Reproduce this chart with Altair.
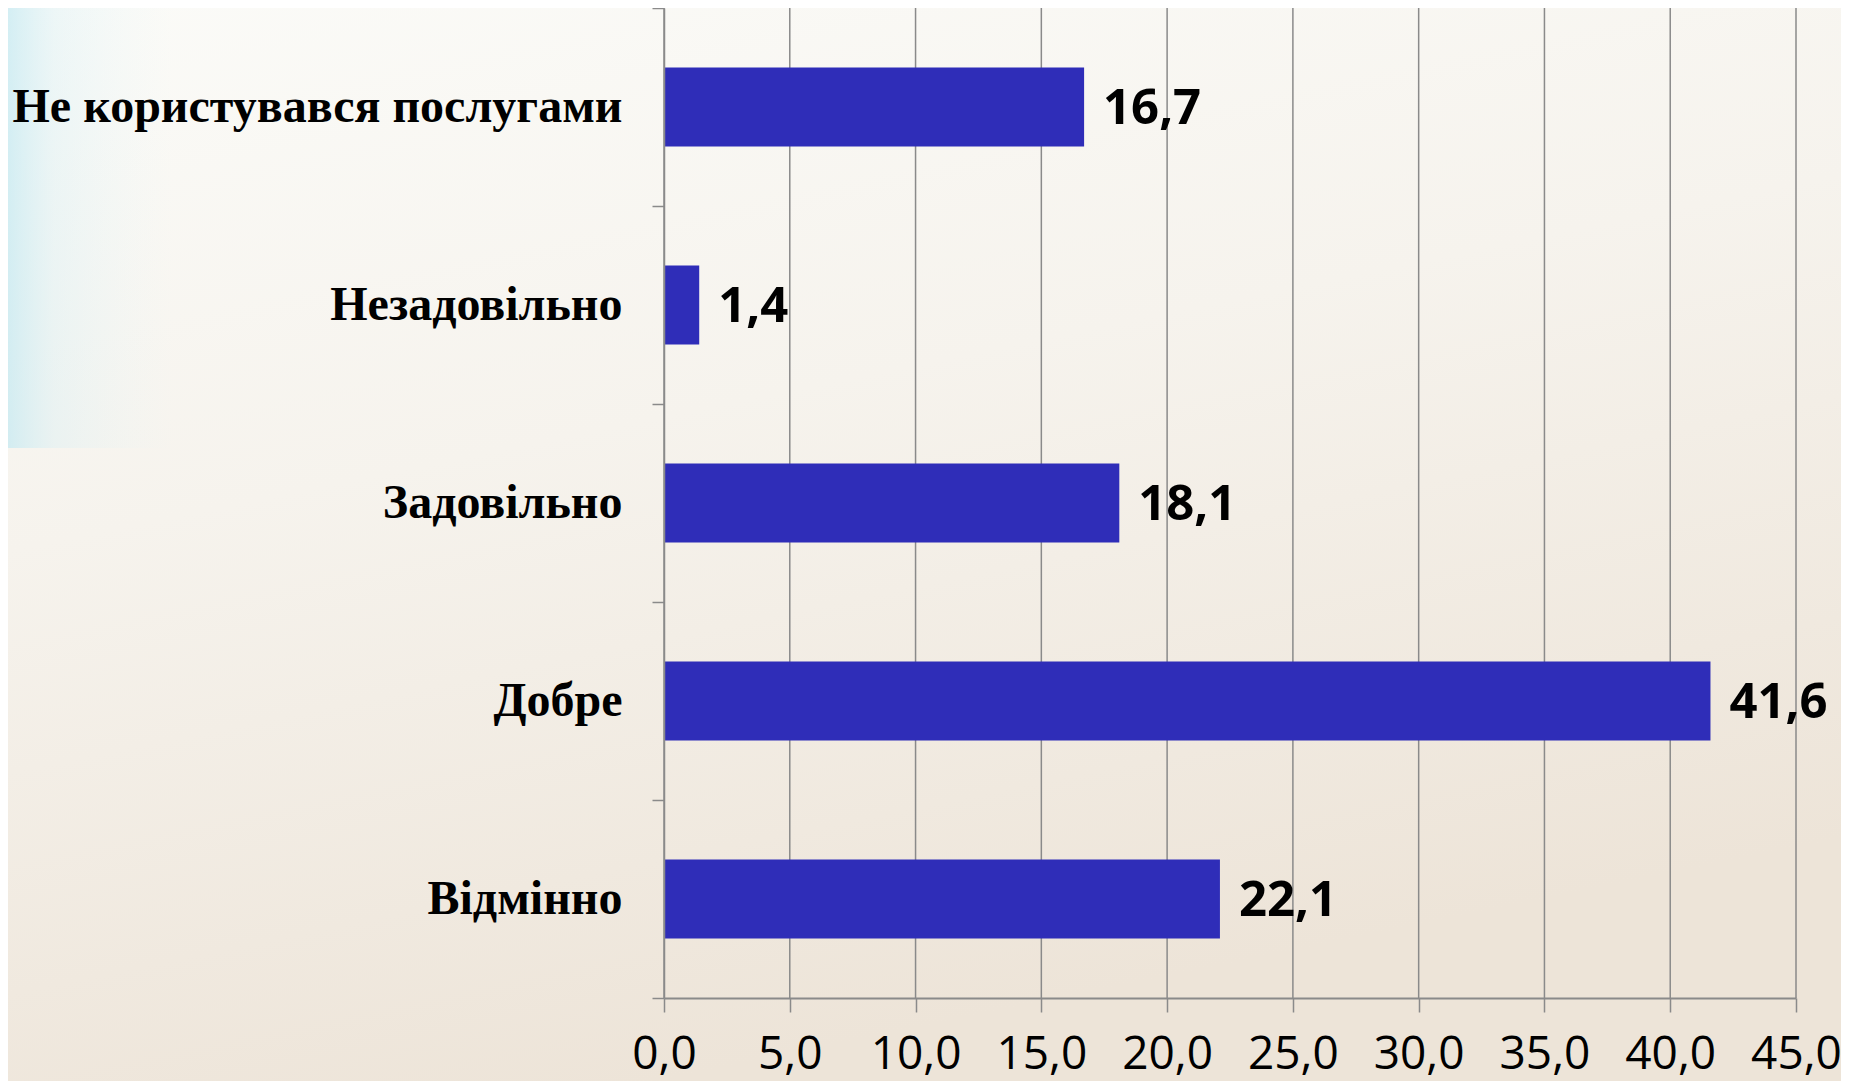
import altair as alt
import pandas as pd

categories = ["Не користувався послугами", "Незадовільно", "Задовільно", "Добре", "Відмінно"]
values = [16.7, 1.4, 18.1, 41.6, 22.1]
x_ticks = [0, 5, 10, 15, 20, 25, 30, 35, 40, 45]

df = pd.DataFrame({"category": categories, "value": values})
ticks_df = pd.DataFrame({"tick": x_ticks})

GRID = "#8a8a8a"
BAR = "#2f2db8"

W, H = 1132, 990
PAD = {"left": 656, "top": 0, "right": 45, "bottom": 85}

y_enc = alt.Y(
    "category:N",
    sort=categories,
    title=None,
    scale=alt.Scale(paddingInner=0, paddingOuter=0),
    axis=alt.Axis(
        labelFont="Liberation Serif",
        labelFontWeight="bold",
        labelFontSize=48,
        labelColor="#000000",
        labelPadding=30,
        labelLimit=800,
        tickBand="extent",
        tickSize=12,
        tickColor=GRID,
        tickWidth=1.5,
        domainColor=GRID,
        domainWidth=1.5,
        grid=False,
        zindex=1,
    ),
)

x_scale = alt.Scale(domain=[0, 45], nice=False, zero=True)

x_enc = alt.X(
    "value:Q",
    title=None,
    scale=x_scale,
    axis=alt.Axis(
        values=x_ticks,
        labelExpr="replace(format(datum.value, '.1f'), '.', ',')",
        labelFont="Open Sans",
        labelFontSize=46,
        labelColor="#000000",
        labelPadding=20,
        labelFlush=False,
        labelOverlap=False,
        tickSize=14,
        tickColor=GRID,
        tickWidth=1.5,
        domainColor=GRID,
        domainWidth=2,
        grid=False,
        zindex=1,
    ),
)

background = (
    alt.Chart(pd.DataFrame({"bg": [0]}))
    .mark_rect(
        color=alt.LinearGradient(
            gradient="linear",
            x1=0, y1=0, x2=0.35, y2=1,
            stops=[
                alt.GradientStop(offset=0, color="#fbfbf8"),
                alt.GradientStop(offset=0.45, color="#f6f3ed"),
                alt.GradientStop(offset=1, color="#ede4d8"),
            ],
        )
    )
    .encode(
        x=alt.value(-PAD["left"]),
        x2=alt.value(W + PAD["right"]),
        y=alt.value(0),
        y2=alt.value(H + PAD["bottom"]),
    )
)

tint = (
    alt.Chart(pd.DataFrame({"bg": [0]}))
    .mark_rect(
        color=alt.LinearGradient(
            gradient="linear",
            x1=0, y1=0, x2=1, y2=0,
            stops=[
                alt.GradientStop(offset=0, color="rgba(195,233,242,0.7)"),
                alt.GradientStop(offset=0.025, color="rgba(210,238,245,0.35)"),
                alt.GradientStop(offset=0.09, color="rgba(230,245,248,0)"),
            ],
        )
    )
    .encode(
        x=alt.value(-PAD["left"]),
        x2=alt.value(W + PAD["right"]),
        y=alt.value(0),
        y2=alt.value(440),
    )
)

grid = (
    alt.Chart(ticks_df)
    .mark_rule(color=GRID, strokeWidth=1.5)
    .encode(x=alt.X("tick:Q", scale=x_scale))
)

bars = alt.Chart(df).mark_bar(color=BAR, size=79).encode(y=y_enc, x=x_enc)

text = (
    alt.Chart(df)
    .transform_calculate(label="replace(format(datum.value, '.1f'), '.', ',')")
    .mark_text(
        align="left",
        baseline="middle",
        dx=19,
        dy=2,
        font="Open Sans",
        fontWeight="bold",
        fontSize=49,
        color="#000000",
    )
    .encode(y=alt.Y("category:N", sort=categories), x="value:Q", text="label:N")
)

chart = (
    alt.layer(background, tint, grid, bars, text)
    .properties(
        width=W,
        height=H,
        background="#f4efe7",
        padding=PAD,
        autosize=alt.AutoSizeParams(type="none"),
    )
    .configure_view(stroke=None)
)

chart.save("out.html", embed_options={"renderer": "svg", "actions": False})
